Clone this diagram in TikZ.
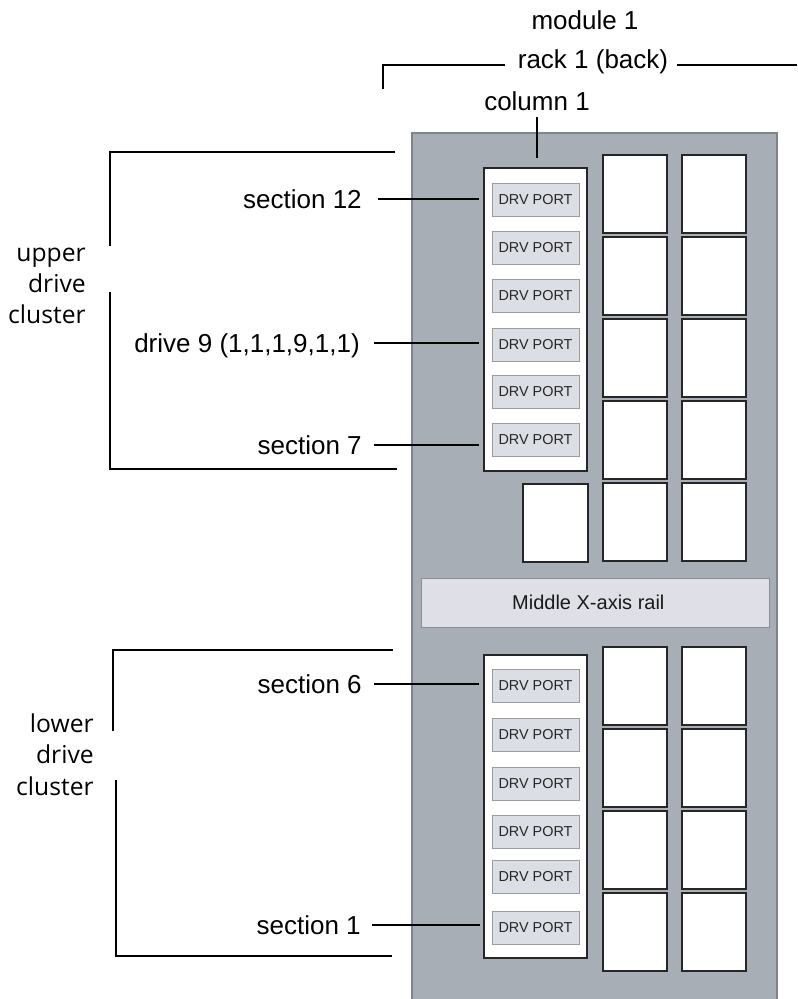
\documentclass[tikz,border=0pt]{standalone}
\usepackage{fontspec}
\setmainfont{Liberation Sans}
\newfontfamily\clfont{Open Sans}
\definecolor{panelc}{HTML}{A7AEB5}
\definecolor{paneledge}{HTML}{7E848A}
\definecolor{sqc}{HTML}{262626}
\definecolor{drvfill}{HTML}{DCDEE5}
\definecolor{drvedge}{HTML}{9A9CA1}
\definecolor{railfill}{HTML}{DFE0E7}
\definecolor{railedge}{HTML}{8A8D92}
\begin{document}
\begin{tikzpicture}[x=0.75pt,y=-0.75pt,
  lbl/.style={font=\fontsize{19.5}{23}\selectfont, inner sep=0pt, text height=14pt, text depth=0pt},
  cl/.style={font=\clfont\fontsize{18.5}{23}\selectfont, inner sep=0pt},
  ln/.style={line width=1.5pt, black},
  sq/.style={draw=sqc, fill=white, line width=1.5pt, minimum width=48pt, minimum height=58.5pt, inner sep=0pt},
  colbox/.style={draw=sqc, fill=white, line width=1.2pt, minimum width=77.25pt, minimum height=227.25pt, inner sep=0pt},
  drv/.style={draw=drvedge, fill=drvfill, line width=0.7pt, minimum width=65.25pt, minimum height=24.75pt, inner sep=0pt, font=\fontsize{10.8}{12}\selectfont, text=black!85},
  rail/.style={draw=railedge, fill=railfill, line width=0.6pt, minimum width=261pt, minimum height=36.75pt, inner sep=0pt, font=\fontsize{15}{18}\selectfont, text=black!90}
]
\useasboundingbox (0,0) rectangle (797,999);
% panel
\fill[panelc] (412,133) rectangle (777,1002);
\draw[paneledge, line width=0.8pt] (412,1002) -- (412,133) -- (777,133) -- (777,1002);

% column boxes
\node[colbox] (colU) at (535.5,319.5) {};
\node[colbox] (colL) at (535.5,806.5) {};

% drive ports
\foreach \y [count=\i] in {200,248,296,345,392,440}
  \node[drv] (du\i) at (535.5,\y) {DRV PORT};
\foreach \y [count=\i] in {686,735,784,832,877,928}
  \node[drv] (dl\i) at (535.5,\y) {DRV PORT};

% storage squares
\foreach \y [count=\i] in {194,276,358,440,522} {
  \node[sq] (ub\i) at (635,\y) {};
  \node[sq] (uc\i) at (714,\y) {};
}
\node[sq, minimum width=48.75pt] (ua5) at (555.5,522.5) {};
\foreach \y [count=\i] in {686,768,850,932} {
  \node[sq] (lb\i) at (635,\y) {};
  \node[sq] (lc\i) at (714,\y) {};
}

% rail
\node[rail] (rail) at (595,602.5) {\hspace*{-10pt}Middle X-axis rail};

% top labels
\node[lbl, anchor=base] (mod) at (585,30) {module 1};
\node[lbl, anchor=base] (rack) at (593,69) {rack 1 (back)};
\node[lbl, anchor=base] (col1) at (537,110) {column 1};
\coordinate (rackTL) at (383,65);
\coordinate (rackTick) at (383,89);
\coordinate (rackR) at (797,65);
\draw[ln] (505,65) -- (rackTL) -- (rackTick);
\draw[ln] (677,65) -- (rackR);
\draw[ln, shorten <=5.25pt, shorten >=6.75pt] (col1.south) -- (col1.south |- colU.north);

% side labels and leaders
\node[lbl, anchor=east] (s12) at (362,199) {section 12};
\node[lbl, anchor=east] (d9) at (360,343) {drive 9 (1,1,1,9,1,1)};
\node[lbl, anchor=east] (s7) at (362,445) {section 7};
\node[lbl, anchor=east] (s6) at (362,684) {section 6};
\node[lbl, anchor=east] (s1) at (361,925) {section 1};
\draw[ln, shorten <=12pt, shorten >=9.75pt] (s12.east) -- (s12.east -| du1.west);
\draw[ln, shorten <=10.5pt, shorten >=9.75pt] (d9.east) -- (d9.east -| du4.west);
\draw[ln, shorten <=9pt, shorten >=9.75pt] (s7.east) -- (s7.east -| du6.west);
\draw[ln, shorten <=9pt, shorten >=9.75pt] (s6.east) -- (s6.east -| dl1.west);
\draw[ln, shorten <=8.25pt, shorten >=9pt] (s1.east) -- (s1.east -| dl6.west);

% cluster brackets
\draw[ln] (395,152) -- (110,152) -- (110,246);
\draw[ln] (110,292) -- (110,469) -- (397,469);
\draw[ln] (393,650) -- (113,650) -- (113,731);
\draw[ln] (116,780) -- (116,956) -- (392,956);

\node[cl, anchor=base east] (uc1l) at (86,261) {upper};
\node[cl, anchor=base east] (uc2l) at (86,292) {drive};
\node[cl, anchor=base east] (uc3l) at (86,323) {cluster};
\node[cl, anchor=base east] (lc1l) at (94,732) {lower};
\node[cl, anchor=base east] (lc2l) at (94,763) {drive};
\node[cl, anchor=base east] (lc3l) at (94,795) {cluster};
\end{tikzpicture}
\end{document}
